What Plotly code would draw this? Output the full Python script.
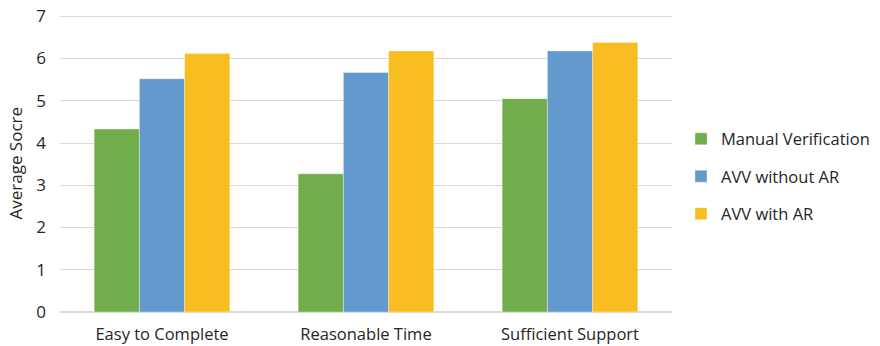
import plotly.graph_objects as go

categories = ["Easy to Complete", "Reasonable Time", "Sufficient Support"]
series_names = ["Manual Verification", "AVV without AR", "AVV with AR"]
manual = [4.33, 3.27, 5.05]
avv_without = [5.52, 5.67, 6.18]
avv_with = [6.12, 6.18, 6.38]
colors = ["#71AD4A", "#6399CD", "#F8BD20"]
y_ticks = [0, 1, 2, 3, 4, 5, 6, 7]

FONT = "Open Sans, sans-serif"
TXT = "#262626"

fig = go.Figure()
for i, (name, vals, c) in enumerate(zip(series_names, [manual, avv_without, avv_with], colors)):
    fig.add_trace(go.Bar(x=categories, y=vals, name=name, legendgroup=f"g{i}",
                         marker=dict(color=c, line=dict(width=0.6, color="rgba(255,255,255,0.6)"))))

fig.update_layout(
    width=880, height=346,
    barmode="group", bargap=0.335, bargroupgap=0,
    margin=dict(l=60, r=208, t=15, b=34, autoexpand=False),
    paper_bgcolor="white", plot_bgcolor="white",
    font=dict(family=FONT, size=16.5, color=TXT),
    showlegend=True,
    legend=dict(x=1.0147, xanchor="left", y=0.456, yanchor="middle",
                font=dict(family=FONT, size=16.5, color=TXT),
                itemwidth=30, tracegroupgap=13, traceorder="grouped"),
    annotations=[dict(text="Average Socre", xref="paper", yref="paper", x=-0.0735, y=0.5,
                      xanchor="center", yanchor="middle", textangle=-90, showarrow=False,
                      font=dict(family=FONT, size=17, color=TXT))],
)
fig.update_yaxes(range=[0, 7.03], tickvals=y_ticks, showgrid=True, gridcolor="#d9d9d9", gridwidth=1.3,
                 zeroline=True, zerolinecolor="#d9d9d9", zerolinewidth=1.5,
                 showline=False, ticks="", ticklen=0, automargin=False, ticklabelstandoff=13,
                 tickfont=dict(family=FONT, size=17, color=TXT))
fig.update_xaxes(showline=False, ticks="", automargin=False, ticklabelstandoff=10,
                 tickfont=dict(family=FONT, size=16.5, color=TXT))

fig.write_html("out.html", config={"displayModeBar": False},
               post_script="document.body.style.margin='0';")
